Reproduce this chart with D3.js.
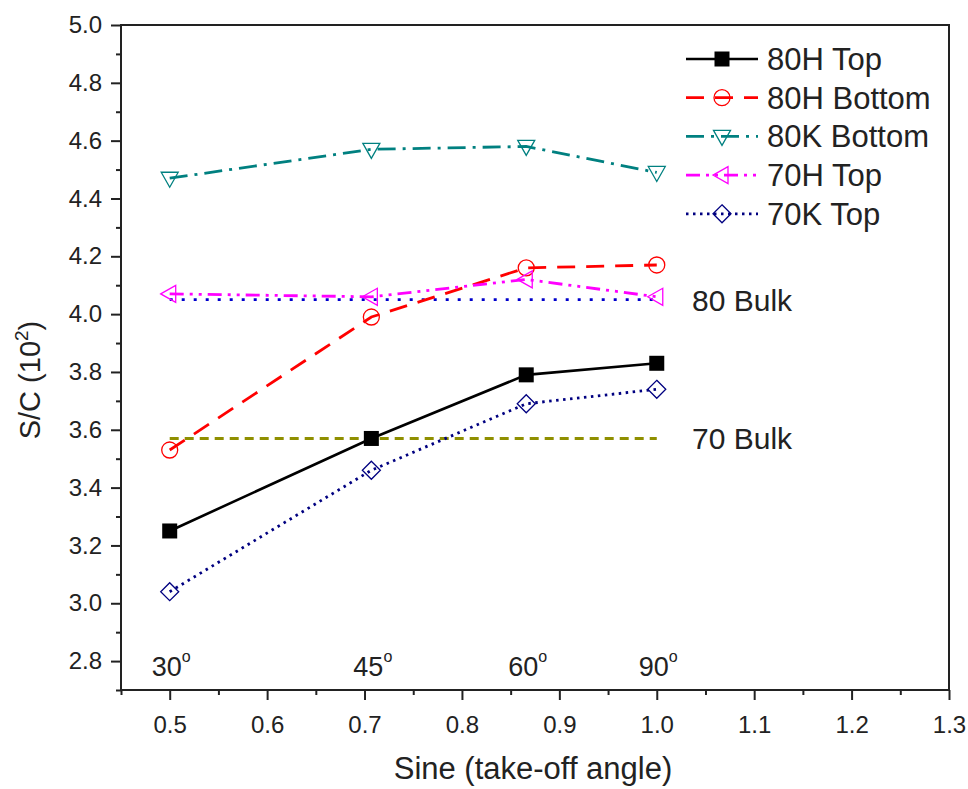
<!DOCTYPE html>
<html>
<head>
<meta charset="utf-8">
<script src="https://cdn.jsdelivr.net/npm/d3@7"></script>
<style>
  body { margin: 0; background: #fff; }
  text { font-family: "Liberation Sans", Arial, sans-serif; fill: #222; }
</style>
</head>
<body>
<svg id="svg"></svg>
<script>
// data
const sineX = [0.5, 0.707, 0.866, 1.0];
const angleLabels = ['30', '45', '60', '90'];

const top80H = [3.25, 3.57, 3.79, 3.83];
const bottom80H = [3.53, 3.99, 4.16, 4.17];
const bottom80K = [4.47, 4.57, 4.58, 4.49];
const top70H = [4.07, 4.06, 4.12, 4.06];
const top70K = [3.04, 3.46, 3.69, 3.74];

const bulk80 = 4.05;
const bulk70 = 3.57;

const seriesNames = ['80H Top', '80H Bottom', '80K Bottom', '70H Top', '70K Top'];

const width = 968;
const height = 789;
const margin = { left: 121, right: 19, top: 25, bottom: 99 };

const svg = d3.select('#svg')
  .attr('width', width)
  .attr('height', height);

const x = d3.scaleLinear().domain([0.45, 1.3]).range([margin.left, width - margin.right]);
const y = d3.scaleLinear().domain([2.7, 5.0]).range([height - margin.bottom, margin.top]);

// series styles
const series = [
  { name: seriesNames[0], values: top80H, color: '#000', dash: null, width: 2.6, marker: 'square' },
  { name: seriesNames[1], values: bottom80H, color: '#ff0000', dash: '18,11', width: 2.8, marker: 'circle' },
  { name: seriesNames[2], values: bottom80K, color: '#008080', dash: '18,7,3,7', width: 2.8, marker: 'tridown' },
  { name: seriesNames[3], values: top70H, color: '#ff00ff', dash: '14,6,3,6,3,6', width: 2.8, marker: 'trileft' },
  { name: seriesNames[4], values: top70K, color: '#000080', dash: '2.5,4.5', width: 2.8, marker: 'diamond' },
];

// ----- axes -----
const plot = svg.append('g');

// frame
plot.append('rect')
  .attr('x', x(0.45)).attr('y', y(5.0))
  .attr('width', x(1.3) - x(0.45)).attr('height', y(2.7) - y(5.0))
  .attr('fill', 'none').attr('stroke', '#222').attr('stroke-width', 2);

const xMajor = d3.range(0.5, 1.3001, 0.1);
const xMinor = d3.range(0.45, 1.3001, 0.1);
const yMajor = d3.range(2.8, 5.0001, 0.2);
const yMinor = d3.range(2.7, 5.0001, 0.2);

const xAxis = d3.axisBottom(x).tickValues(xMajor).tickFormat(d3.format('.1f')).tickSize(10).tickPadding(16);
const xAxisMinor = d3.axisBottom(x).tickValues(xMinor).tickFormat('').tickSize(5);
const yAxis = d3.axisLeft(y).tickValues(yMajor).tickFormat(d3.format('.1f')).tickSize(10).tickPadding(9);
const yAxisMinor = d3.axisLeft(y).tickValues(yMinor).tickFormat('').tickSize(5);

[xAxis, xAxisMinor].forEach(ax => {
  plot.append('g').attr('transform', `translate(0,${y(2.7)})`).call(ax);
});
[yAxis, yAxisMinor].forEach(ax => {
  plot.append('g').attr('transform', `translate(${x(0.45)},0)`).call(ax);
});

plot.selectAll('.domain').remove();
plot.selectAll('.tick line').attr('stroke', '#222').attr('stroke-width', 2);
plot.selectAll('.tick text')
  .style('font-family', '"Liberation Sans", Arial, sans-serif')
  .style('font-size', '24px')
  .attr('fill', '#222');

// axis titles
svg.append('text')
  .attr('x', 533).attr('y', 779)
  .attr('text-anchor', 'middle')
  .style('font-size', '31px')
  .text('Sine (take-off angle)');

const yTitle = svg.append('text')
  .attr('transform', `translate(40,380) rotate(-90)`)
  .attr('text-anchor', 'middle')
  .style('font-size', '29px');
yTitle.append('tspan').text('S/C (10');
yTitle.append('tspan').attr('dy', -12).style('font-size', '19px').text('2');
yTitle.append('tspan').attr('dy', 12).text(')');

// angle labels
angleLabels.forEach((a, i) => {
  const t = svg.append('text')
    .attr('x', x(sineX[i]) - 18).attr('y', 676)
    .style('font-size', '27px');
  t.append('tspan').text(a);
  t.append('tspan').attr('dy', -14).style('font-size', '16px').text('o');
});

// ----- bulk reference lines -----
svg.append('line')
  .attr('x1', x(0.5)).attr('x2', x(1.0))
  .attr('y1', y(bulk80)).attr('y2', y(bulk80))
  .attr('stroke', '#0000cc').attr('stroke-width', 2.8)
  .attr('stroke-dasharray', '3,9');
svg.append('line')
  .attr('x1', x(0.5)).attr('x2', x(1.0))
  .attr('y1', y(bulk70)).attr('y2', y(bulk70))
  .attr('stroke', '#8f8f00').attr('stroke-width', 3)
  .attr('stroke-dasharray', '9,6');

svg.append('text').attr('x', 692).attr('y', y(bulk80) + 11)
  .style('font-size', '30px').text('80 Bulk');
svg.append('text').attr('x', 692).attr('y', y(bulk70) + 11)
  .style('font-size', '30px').text('70 Bulk');

// ----- markers -----
const drawMarker = (g, type, cx, cy, color) => {
  if (type === 'square') {
    g.append('rect').attr('x', cx - 7.5).attr('y', cy - 7.5).attr('width', 15).attr('height', 15)
      .attr('fill', color);
  } else if (type === 'circle') {
    g.append('circle').attr('cx', cx).attr('cy', cy).attr('r', 8)
      .attr('fill', 'none').attr('stroke', color).attr('stroke-width', 1.3);
  } else if (type === 'tridown') {
    g.append('path').attr('d', `M${cx - 8.5},${cy - 6}L${cx + 8.5},${cy - 6}L${cx},${cy + 9}Z`)
      .attr('fill', 'none').attr('stroke', color).attr('stroke-width', 1.3);
  } else if (type === 'trileft') {
    g.append('path').attr('d', `M${cx - 9},${cy}L${cx + 6},${cy - 8.5}L${cx + 6},${cy + 8.5}Z`)
      .attr('fill', 'none').attr('stroke', color).attr('stroke-width', 1.3);
  } else if (type === 'diamond') {
    g.append('path').attr('d', `M${cx},${cy - 9}L${cx + 9},${cy}L${cx},${cy + 9}L${cx - 9},${cy}Z`)
      .attr('fill', 'none').attr('stroke', color).attr('stroke-width', 1.3);
  }
};

const lineFn = d3.line()
  .x((d, i) => x(sineX[i]))
  .y(d => y(d));

series.forEach(s => {
  const g = svg.append('g');
  g.append('path')
    .attr('d', lineFn(s.values))
    .attr('fill', 'none')
    .attr('stroke', s.color)
    .attr('stroke-width', s.width)
    .attr('stroke-dasharray', s.dash);
  s.values.forEach((v, i) => drawMarker(g, s.marker, x(sineX[i]), y(v), s.color));
});

// ----- legend -----
const legend = svg.append('g');
series.forEach((s, i) => {
  const ly = 59 + i * 38.7;
  legend.append('line')
    .attr('x1', 686).attr('x2', 758).attr('y1', ly).attr('y2', ly)
    .attr('stroke', s.color).attr('stroke-width', s.width)
    .attr('stroke-dasharray', s.dash);
  drawMarker(legend, s.marker, 722, ly, s.color);
  legend.append('text')
    .attr('x', 767).attr('y', ly + 11)
    .style('font-size', '31px')
    .text(s.name);
});
</script>
</body>
</html>
